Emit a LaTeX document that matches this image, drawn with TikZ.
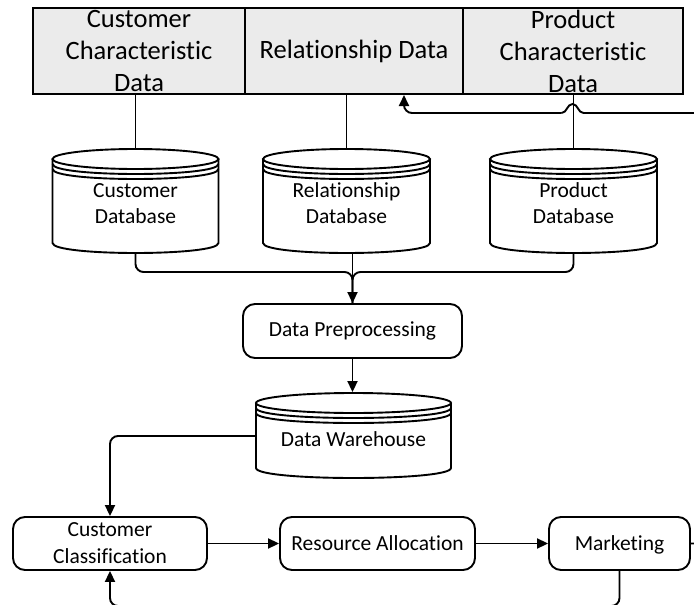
\documentclass[tikz,border=0pt]{standalone}
\usepackage{fontspec}
\setmainfont{Carlito}[Ligatures={NoCommon,NoRequired,NoContextual}]
\usetikzlibrary{arrows.meta}
\definecolor{boxgray}{RGB}{235,235,235}

% database cylinder: name, centre x, top y, half width, y where the sides end, text
\newcommand{\dbcyl}[6]{%
  \draw[fill=white] (#2-#4,#3+10) -- (#2-#4,#5)
    .. controls (#2-#4,#5+13.33) and (#2+#4,#5+13.33) .. (#2+#4,#5) -- (#2+#4,#3+10);
  \draw[fill=white] (#2,#3+10) ellipse [x radius=#4, y radius=10];
  \draw (#2-#4,#3+15) .. controls (#2-#4,#3+28.33) and (#2+#4,#3+28.33) .. (#2+#4,#3+15);
  \draw (#2-#4,#3+20) .. controls (#2-#4,#3+33.33) and (#2+#4,#3+33.33) .. (#2+#4,#3+20);
  \node[dbtext, minimum width=2*#4, minimum height=#5+10-#3] (#1) at (#2,{(#3+#5+10)/2}) {#6};
}

\begin{document}
\begin{tikzpicture}[x=1pt, y=-1pt, line width=1.9pt,
  topbox/.style={draw, fill=boxgray, line width=2pt, minimum height=86, inner sep=0,
    align=center, font=\fontsize{26.5}{32}\selectfont},
  procbox/.style={draw, fill=white, rounded corners=12, inner sep=0,
    align=center, font=\fontsize{21.5}{27}\selectfont},
  dbtext/.style={inner sep=0, align=center, font=\fontsize{21.5}{26}\selectfont},
  flow/.style={-{Triangle[length=11pt,width=10pt]}},
  rc/.style={rounded corners=8}]

\useasboundingbox (0,0) rectangle (694,605);
\clip (0,0) rectangle (694,605);

% source data
\node[topbox, minimum width=212] (cust) at (139,51) {Customer\\Characteristic\\Data};
\node[topbox, minimum width=218] (rel)  at (354,51) {Relationship Data};
\node[topbox, minimum width=220] (prod) at (573,51) {Product\\Characteristic\\Data};

% databases
\dbcyl{cdb}{135.5}{149}{83}{243}{\\[-7pt]Customer\\Database}
\dbcyl{rdb}{346.5}{149}{83.5}{243}{\\[-7pt]Relationship\\Database}
\dbcyl{pdb}{573.5}{149}{83.5}{243}{\\[-7pt]Product\\Database}

\draw (cdb.north) -- (cdb.north |- cust.south);
\draw (rdb.north) -- (rdb.north |- rel.south);
\draw (pdb.north) -- (pdb.north |- prod.south);

% preprocessing and warehouse
\node[procbox, minimum width=219, minimum height=54] (pre) at (352.5,331) {Data Preprocessing};
\dbcyl{dw}{353.5}{393}{97.5}{468}{\rule{0pt}{22pt}Data Warehouse}

\coordinate (bus) at (pre.north |- 0,272);
\draw[rc] (cdb.south) |- (bus) -- (pre.north);
\draw[rc] (pdb.south) |- (bus) -- (pre.north);
\draw[flow] (pre.north |- rdb.south) -- (pre.north);
\draw[flow] (pre.south) -- (pre.south |- dw.north);

% analysis chain
\node[procbox, minimum width=194, minimum height=53] (cls) at (110,543.5) {Customer\\Classification};
\node[procbox, minimum width=195, minimum height=53] (res) at (377.5,543.5) {Resource Allocation};
\node[procbox, minimum width=141, minimum height=53] (mkt) at (619.5,543.5) {\raisebox{0pt}[\height][0pt]{Marketing}};

\coordinate (dwl) at (dw.west |- 0,436);
\draw[flow, rc] (dwl) -| (cls.north);
\draw[flow] (cls.east) -- (res.west);
\draw[flow] (res.east) -- (mkt.west);

% feedback loops
\coordinate (loopbl) at (cls.south |- 0,606);
\draw[flow, rc] (mkt.south) |- (loopbl) -- (cls.south);

\coordinate (loopr) at (720,543);
\coordinate (jmp) at (561.5,113);
\coordinate (fbk) at (404,113);
\draw (mkt.east) -- (loopr) -- (720,113) -- (583.5,113)
  .. controls (578,113) and (578,104) .. (572.5,104)
  .. controls (567,104) and (567,113) .. (jmp);
\draw[flow, rc] (jmp) -- (fbk) -- (fbk |- rel.south);
\end{tikzpicture}
\end{document}
